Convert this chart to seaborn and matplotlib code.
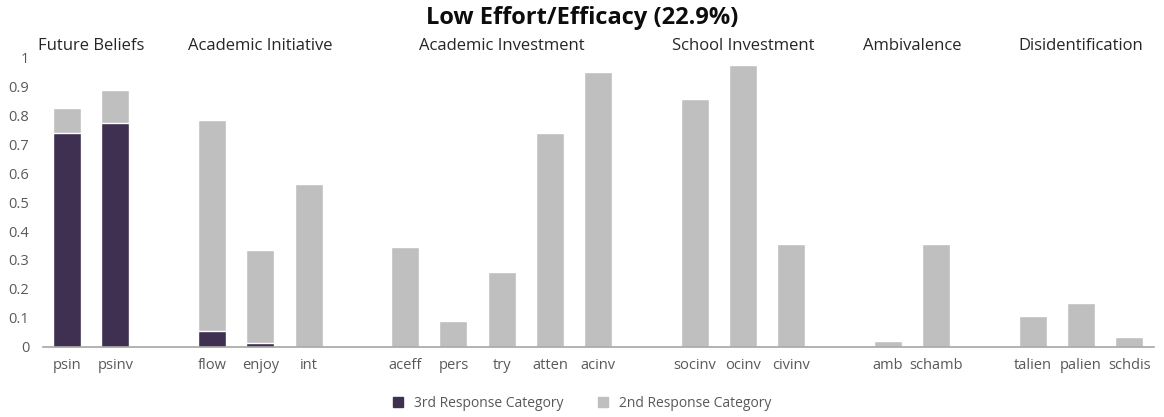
import numpy as np
import pandas as pd
import matplotlib
matplotlib.use("Agg")
import matplotlib.pyplot as plt
import seaborn as sns
from matplotlib.patches import Patch

# -------------------------
# Data
# -------------------------
items = ["psin", "psinv", "flow", "enjoy", "int", "aceff", "pers", "try",
         "atten", "acinv", "socinv", "ocinv", "civinv", "amb", "schamb",
         "talien", "palien", "schdis"]
third = [0.738, 0.772, 0.055, 0.014, 0, 0, 0, 0,
         0, 0, 0, 0, 0, 0, 0,
         0, 0, 0]
second = [0.086, 0.114, 0.728, 0.320, 0.562, 0.345, 0.090, 0.259,
          0.738, 0.948, 0.855, 0.972, 0.355, 0.020, 0.355,
          0.107, 0.152, 0.034]

groups = ["Future Beliefs", "Academic Initiative", "Academic Investment",
          "School Investment", "Ambivalence", "Disidentification"]
group_items = [["psin", "psinv"], ["flow", "enjoy", "int"],
               ["aceff", "pers", "try", "atten", "acinv"],
               ["socinv", "ocinv", "civinv"], ["amb", "schamb"],
               ["talien", "palien", "schdis"]]

title = "Low Effort/Efficacy (22.9%)"
legend_labels = ["3rd Response Category", "2nd Response Category"]

DARK = "#3f2f50"
GRAY = "#bfbfbf"
TEXT = "#595959"

# slot order with blank gaps between groups
order = []
for i, g in enumerate(group_items):
    if i > 0:
        order.append(" " * i)
    order.extend(g)

df = pd.DataFrame({"item": items, "third": third, "second": second})
df["total"] = df["third"] + df["second"]

sns.set_style("white")
plt.rcParams["font.family"] = ["Open Sans", "DejaVu Sans"]

fig = plt.figure(figsize=(11.64, 4.17), dpi=100)
ax = fig.add_axes([0.037, 0.168, 0.954, 0.695])

sns.barplot(data=df, x="item", y="total", order=order, color=GRAY,
            width=0.58, saturation=1, ax=ax)
sns.barplot(data=df, x="item", y="third", order=order, color=DARK,
            width=0.58, saturation=1, ax=ax)

ax.set_xlim(-0.5, len(order) - 0.5)
ax.set_ylim(0, 1)
ticks = np.round(np.arange(0, 1.01, 0.1), 1)
ax.set_yticks(ticks)
ax.set_yticklabels([f"{v:g}" for v in ticks])
ax.set_xlabel("")
ax.set_ylabel("")
ax.tick_params(axis="both", length=0, labelsize=10.5, colors=TEXT)
ax.tick_params(axis="x", pad=8)
ax.tick_params(axis="y", pad=10)

for side in ["top", "right", "left"]:
    ax.spines[side].set_visible(False)
ax.spines["bottom"].set_color("#a6a6a6")
ax.spines["bottom"].set_linewidth(1.2)

# group headings above the bars
for g, its in zip(groups, group_items):
    pos = np.mean([order.index(it) for it in its])
    ax.text(pos, 1.04, g, ha="center", va="center", fontsize=12,
            color="#262626", clip_on=False)

fig.suptitle(title, x=0.5, y=0.985, fontsize=17, fontweight="bold",
             color="#0d0d0d")

handles = [Patch(color=DARK), Patch(color=GRAY)]
fig.legend(handles, legend_labels, loc="lower center", ncol=2,
           bbox_to_anchor=(0.5, -0.015), frameon=False, fontsize=10,
           handlelength=0.7, handleheight=0.7, columnspacing=2.5,
           labelcolor=TEXT)

plt.savefig("out.png", dpi=100)
plt.close()
